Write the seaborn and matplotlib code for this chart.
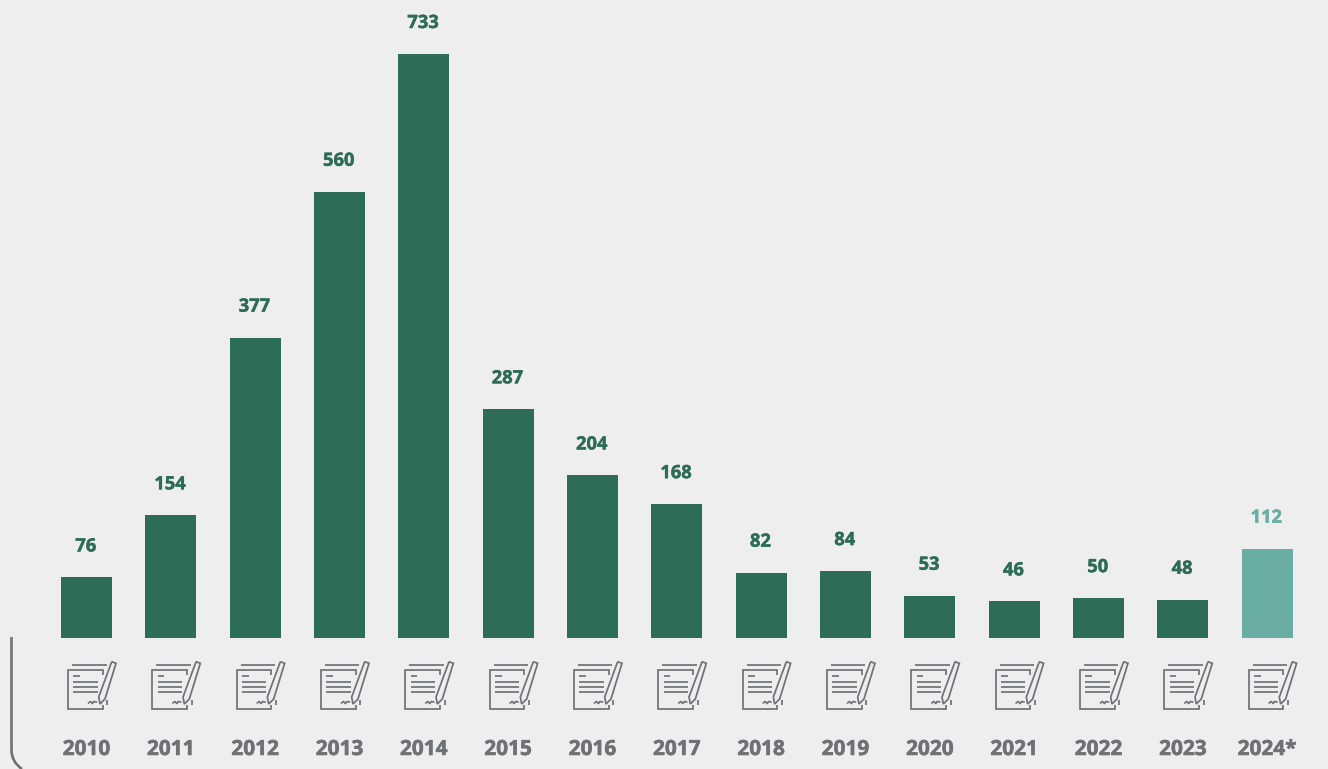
import matplotlib
matplotlib.use("Agg")
import matplotlib.pyplot as plt
from matplotlib.path import Path
from matplotlib.patches import PathPatch
import matplotlib.patheffects as pe
import pandas as pd
import seaborn as sns

years = ["2010", "2011", "2012", "2013", "2014", "2015", "2016", "2017",
         "2018", "2019", "2020", "2021", "2022", "2023", "2024*"]
values = [76, 154, 377, 560, 733, 287, 204, 168, 82, 84, 53, 46, 50, 48, 112]
kinds = ["final"] * 14 + ["partial"]

BG = "#EEEEEE"
DARK = "#2D6C56"
LIGHT = "#6AADA2"
GREY = "#707173"
W, H = 1328, 769

sns.set_theme(style="white")
plt.rcParams["font.family"] = ["Open Sans", "DejaVu Sans"]

fig = plt.figure(figsize=(W / 100, H / 100), dpi=100, facecolor=BG)
ax = fig.add_axes([0, 0, 1, 1], facecolor=BG)

df = pd.DataFrame({"year": years, "value": values, "kind": kinds})
sns.barplot(data=df, x="year", y="value", hue="kind",
            palette={"final": DARK, "partial": LIGHT},
            dodge=False, width=0.605, saturation=1, legend=False,
            linewidth=0, ax=ax)

step = 84.33
x0 = 86.5
base = 638.0
scale = 584.0 / 733.0
ax.set_xlim(-x0 / step, (W - x0) / step)
ax.set_ylim(-(H - base) / scale, base / scale)
ax.axis("off")

for i, (y, v, k) in enumerate(zip(years, values, kinds)):
    c = DARK if k == "final" else LIGHT
    ax.annotate(str(v), (i, v), xytext=(-0.7, 22), textcoords="offset pixels",
                ha="center", va="bottom", fontsize=13.2, fontweight="bold",
                color=c, path_effects=[pe.withStroke(linewidth=0.3, foreground=c)])
    ax.annotate(y, (i, 0), xytext=(0, -111.5), textcoords="offset pixels",
                ha="center", va="center", fontsize=15, fontweight="bold",
                color=GREY, path_effects=[pe.withStroke(linewidth=0.4, foreground=GREY)])

# overlay in pixel coordinates for decoration
ov = fig.add_axes([0, 0, 1, 1], facecolor="none")
ov.set_xlim(0, W)
ov.set_ylim(H, 0)
ov.axis("off")


def icon(cx):
    dx = cx - 86.5
    lw = 1.25
    segs = [
        [(102.7, 675), (102.7, 670), (68, 670), (68, 709), (102.7, 709), (102.7, 705)],
        [(72, 665), (106.5, 665)],
        [(73.3, 675.5), (80, 675.5)],
        [(73.3, 682), (97.7, 682)],
        [(73.3, 686.7), (97.7, 686.7)],
        [(73.3, 691.7), (97.7, 691.7)],
        [(107.3, 700), (107.3, 705)],
        [(111.7, 661.7), (116, 663.3), (105, 699), (100, 704), (98.7, 697), (111.7, 661.7)],
    ]
    for s in segs:
        ov.plot([p[0] + dx for p in s], [p[1] for p in s], color=GREY, lw=lw,
                solid_joinstyle="miter", solid_capstyle="butt")
    ov.plot([x + dx for x in (88.5, 90.5, 92.5, 94, 96.5)],
            [703, 701.5, 703.5, 701.5, 702], color=GREY, lw=lw)


for i in range(len(years)):
    icon(x0 + step * i)

bracket = Path([(11.5, 637), (11.5, 750), (11.5, 762), (22, 769)],
               [Path.MOVETO, Path.LINETO, Path.CURVE3, Path.CURVE3])
ov.add_patch(PathPatch(bracket, fc="none", ec=GREY, lw=1.9))

fig.savefig("out.png", dpi=100, facecolor=BG)
